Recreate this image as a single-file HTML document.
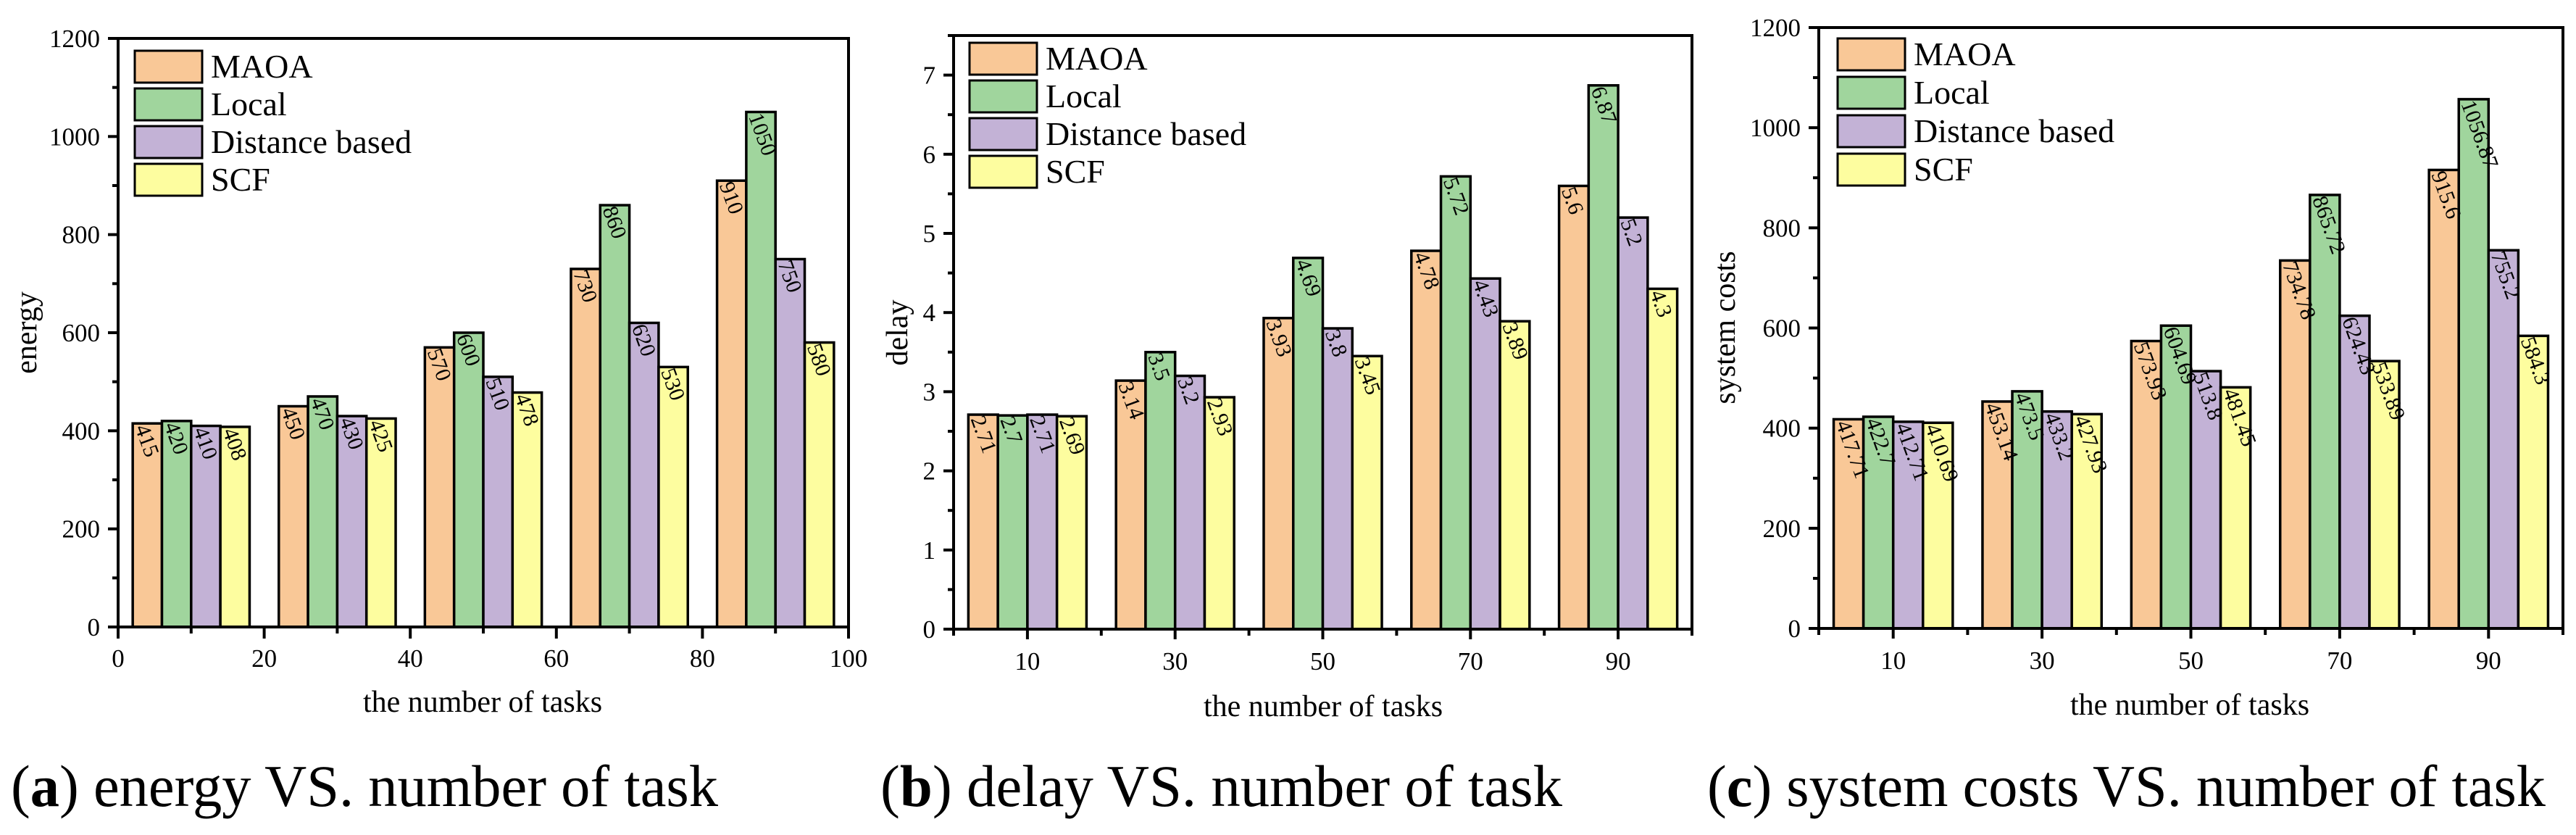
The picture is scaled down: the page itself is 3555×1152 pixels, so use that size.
<!DOCTYPE html>
<html><head><meta charset="utf-8"><style>
html,body{margin:0;padding:0;background:#fff;}
svg{display:block;}
svg text{font-family:"Liberation Serif",serif;}
</style></head><body>
<svg id="fig" width="3555" height="1152" viewBox="0 0 3555 1152" xmlns="http://www.w3.org/2000/svg">
<rect width="3555" height="1152" fill="#fff"/>
</svg>
<script>
const categories = [10, 30, 50, 70, 90];
const seriesNames = ["MAOA", "Local", "Distance based", "SCF"];
const energyMAOA = [415, 450, 570, 730, 910];
const energyLocal = [420, 470, 600, 860, 1050];
const energyDist = [410, 430, 510, 620, 750];
const energySCF = [408, 425, 478, 530, 580];
const delayMAOA = [2.71, 3.14, 3.93, 4.78, 5.6];
const delayLocal = [2.7, 3.5, 4.69, 5.72, 6.87];
const delayDist = [2.71, 3.2, 3.8, 4.43, 5.2];
const delaySCF = [2.69, 2.93, 3.45, 3.89, 4.3];
const costMAOA = [417.71, 453.14, 573.93, 734.78, 915.6];
const costLocal = [422.7, 473.5, 604.69, 865.72, 1056.87];
const costDist = [412.71, 433.2, 513.8, 624.43, 755.2];
const costSCF = [410.69, 427.93, 481.45, 533.89, 584.3];
const energyTicks = [0, 200, 400, 600, 800, 1000, 1200];
const delayTicks = [0, 1, 2, 3, 4, 5, 6, 7];
const costTicks = [0, 200, 400, 600, 800, 1000, 1200];
const xTicksNumeric = [0, 20, 40, 60, 80, 100];

const colors = ["#F9C897", "#A0D59D", "#C3B2D6", "#FDFD9F"];
const NS = "http://www.w3.org/2000/svg";
const FONT = '"Liberation Serif", serif';
const svg = document.getElementById("fig");
function mk(tag, attrs, parent) {
  const e = document.createElementNS(NS, tag);
  for (const k in attrs) e.setAttribute(k, attrs[k]);
  if (tag === "text") e.setAttribute("font-family", FONT);
  (parent || svg).appendChild(e);
  return e;
}

const panels = [
  {key:"energy", series:[energyMAOA, energyLocal, energyDist, energySCF], yTicks:energyTicks, yMax:1200, yMinor:100,
   L:163, R:1171, T:53, B:865, ylabel:"energy", ylx:38, yly:459, numericX:true,
   leg:{x:186, y:70, step:52}, tx:666, ty:982, cap:"a", capText:" energy VS. number of task", capX:15, capW:976},
  {key:"delay", series:[delayMAOA, delayLocal, delayDist, delaySCF], yTicks:delayTicks, yMax:7.5, yMinor:0.5,
   L:1316, R:2335, T:49, B:868, ylabel:"delay", ylx:1240, yly:459, numericX:false,
   leg:{x:1338, y:59, step:52}, tx:1826, ty:988, cap:"b", capText:" delay VS. number of task", capX:1215, capW:941},
  {key:"cost", series:[costMAOA, costLocal, costDist, costSCF], yTicks:costTicks, yMax:1200, yMinor:100,
   L:2510, R:3537, T:38, B:867, ylabel:"system costs", ylx:2382, yly:452, numericX:false,
   leg:{x:2536, y:53, step:53}, tx:3022, ty:986, cap:"c", capText:" system costs VS. number of task", capX:2356, capW:1157}
];

panels.forEach(p => {
  const g = mk("g", {});
  
  
  const xs = v => p.L + (v / 100) * (p.R - p.L);
  const ys = v => p.B - (v / p.yMax) * (p.B - p.T);

  p.series.forEach((vals, si) => {
    vals.forEach((v, ci) => {
      const x0 = xs(categories[ci] - 8 + si * 4), x1 = xs(categories[ci] - 4 + si * 4);
      const r = mk("rect", {x:x0, y:ys(v), width:x1 - x0, height:p.B - ys(v), fill:colors[si], stroke:"#000", "stroke-width":3.5}, g);
      
      
    });
  });
  p.series.forEach((vals, si) => {
    vals.forEach((v, ci) => {
      const x0 = xs(categories[ci] - 8 + si * 4);
      const ax = x0 + 3, ay = ys(v) + 6;
      const t = mk("text", {x:ax, y:ay, "font-size":30, transform:"rotate(70 " + ax + " " + ay + ")", fill:"#000"}, g);
      t.textContent = String(v);
      
      
    });
  });
  const fr = mk("rect", {x:p.L, y:p.T, width:p.R - p.L, height:p.B - p.T, fill:"none", stroke:"#000", "stroke-width":4}, g);
  
  

  for (let v = 0; v <= p.yMax + 1e-9; v += p.yMinor) {
    const isMajor = p.yTicks.some(t => Math.abs(t - v) < 1e-9);
    mk("line", {x1:p.L, x2:p.L - (isMajor ? 14 : 8), y1:ys(v), y2:ys(v), stroke:"#000", "stroke-width":4}, g);
  }
  p.yTicks.forEach(v => {
    const t = mk("text", {x:p.L - 25, y:ys(v) + 12, "font-size":35, "text-anchor":"end"}, g);
    t.textContent = String(v);
    
    
  });
  if (p.numericX) {
    for (let v = 0; v <= 100; v += 10) {
      const major = v % 20 === 0;
      mk("line", {x1:xs(v), x2:xs(v), y1:p.B, y2:p.B + (major ? 16 : 9), stroke:"#000", "stroke-width":4}, g);
    }
    xTicksNumeric.forEach(v => {
      const t = mk("text", {x:xs(v), y:p.B + 55, "font-size":35, "text-anchor":"middle"}, g);
      t.textContent = String(v);
      
      
    });
  } else {
    for (let v = 0; v <= 100; v += 10) {
      const major = v % 20 === 10;
      mk("line", {x1:xs(v), x2:xs(v), y1:p.B, y2:p.B + (major ? 14 : 9), stroke:"#000", "stroke-width":4}, g);
    }
    categories.forEach(v => {
      const t = mk("text", {x:xs(v), y:p.B + 56, "font-size":35, "text-anchor":"middle"}, g);
      t.textContent = String(v);
      
      
    });
  }
  const xt = mk("text", {x:p.tx, y:p.ty, "font-size":42, "text-anchor":"middle"}, g);
  xt.textContent = "the number of tasks";
  
  
  const yt = mk("text", {x:p.ylx + 12, y:p.yly, "font-size":42, "text-anchor":"middle", transform:"rotate(-90 " + (p.ylx + 12) + " " + p.yly + ")"}, g);
  yt.textContent = p.ylabel;
  
  

  seriesNames.forEach((n, i) => {
    const y = p.leg.y + i * p.leg.step;
    const b = mk("rect", {x:p.leg.x, y:y, width:93, height:44, fill:colors[i], stroke:"#000", "stroke-width":3}, g);
    
    
    const t = mk("text", {x:p.leg.x + 105, y:y + 37, "font-size":46}, g);
    t.textContent = n;
    
    
  });

  const c = mk("text", {x:p.capX, y:1112, "font-size":82, textLength:p.capW, lengthAdjust:"spacingAndGlyphs"}, g);
  
  
  const t1 = mk("tspan", {}, c); t1.textContent = "(";
  const t2 = mk("tspan", {"font-weight":"bold"}, c); t2.textContent = p.cap;
  const t3 = mk("tspan", {}, c); t3.textContent = ")" + p.capText;
});
</script>
</body></html>
